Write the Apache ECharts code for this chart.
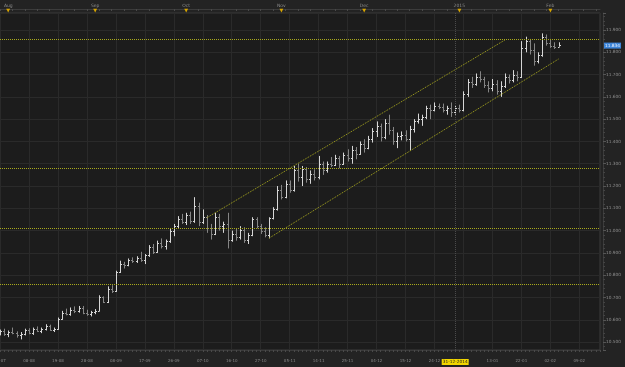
<!DOCTYPE html>
<html>
<head>
<meta charset="utf-8">
<script src="https://cdn.jsdelivr.net/npm/echarts/dist/echarts.min.js"></script>
<style>
  html, body { margin: 0; padding: 0; background: #232323; }
  #chart { width: 625px; height: 367px; }
</style>
</head>
<body>
<div id="chart"></div>
<script>
// daily bars, 30-07-2014 .. 04-02-2015 (slot index = trading day)
const open = [
  10.540, 10.548, 10.535, 10.545, 10.540, 10.530, 10.538, 10.552, 10.540, 10.558,
  10.550, 10.560, 10.572, 10.556, 10.560, 10.605, 10.630, 10.625, 10.645, 10.640,
  10.655, 10.630, 10.625, 10.635, 10.640, 10.700, 10.680, 10.740, 10.730, 10.815,
  10.850, 10.845, 10.868, 10.862, 10.878, 10.870, 10.890, 10.925, 10.905, 10.945,
  10.930, 10.952, 11.000, 11.020, 11.050, 11.040, 11.070, 11.045, 11.110, 11.040,
  11.060, 11.010, 10.985, 11.060, 11.020, 11.030, 10.960, 10.985, 10.970, 11.005,
  10.960, 10.980, 11.050, 11.020, 11.000, 10.980, 11.055, 11.095, 11.180, 11.150,
  11.210, 11.180, 11.270, 11.240, 11.275, 11.230, 11.255, 11.240, 11.300, 11.270,
  11.300, 11.295, 11.325, 11.300, 11.340, 11.325, 11.360, 11.345, 11.390, 11.370,
  11.410, 11.445, 11.470, 11.420, 11.485, 11.450, 11.400, 11.425, 11.430, 11.410,
  11.455, 11.490, 11.500, 11.510, 11.550, 11.540, 11.560, 11.555, 11.540, 11.550,
  11.530, 11.550, 11.540, 11.615, 11.665, 11.660, 11.690, 11.680, 11.655, 11.640,
  11.660, 11.625, 11.650, 11.690, 11.675, 11.700, 11.690, 11.820, 11.850, 11.810,
  11.760, 11.790, 11.870, 11.840, 11.830, 11.825
]
const high = [
  10.556, 10.560, 10.552, 10.565, 10.548, 10.545, 10.560, 10.562, 10.565, 10.570,
  10.565, 10.580, 10.578, 10.565, 10.610, 10.640, 10.650, 10.655, 10.660, 10.662,
  10.662, 10.645, 10.640, 10.648, 10.710, 10.705, 10.750, 10.755, 10.820, 10.865,
  10.860, 10.875, 10.880, 10.885, 10.905, 10.895, 10.935, 10.940, 10.955, 10.965,
  10.960, 11.010, 11.030, 11.065, 11.075, 11.080, 11.085, 11.150, 11.125, 11.095,
  11.070, 11.030, 11.080, 11.075, 11.040, 11.080, 11.000, 11.010, 11.020, 11.015,
  10.990, 11.060, 11.060, 11.030, 11.015, 11.060, 11.105, 11.200, 11.205, 11.225,
  11.225, 11.290, 11.300, 11.290, 11.285, 11.270, 11.275, 11.335, 11.310, 11.310,
  11.330, 11.340, 11.335, 11.350, 11.365, 11.380, 11.375, 11.400, 11.410, 11.425,
  11.460, 11.490, 11.480, 11.500, 11.520, 11.465, 11.440, 11.445, 11.450, 11.470,
  11.500, 11.525, 11.520, 11.560, 11.565, 11.575, 11.570, 11.570, 11.560, 11.575,
  11.560, 11.565, 11.625, 11.680, 11.690, 11.705, 11.715, 11.690, 11.670, 11.680,
  11.675, 11.670, 11.705, 11.700, 11.720, 11.715, 11.850, 11.870, 11.860, 11.840,
  11.800, 11.885, 11.880, 11.860, 11.845, 11.845
]
const low = [
  10.530, 10.528, 10.522, 10.535, 10.520, 10.512, 10.530, 10.535, 10.532, 10.545,
  10.540, 10.552, 10.550, 10.545, 10.555, 10.600, 10.620, 10.618, 10.630, 10.632,
  10.625, 10.618, 10.615, 10.625, 10.638, 10.675, 10.675, 10.720, 10.725, 10.810,
  10.830, 10.840, 10.855, 10.855, 10.860, 10.850, 10.882, 10.895, 10.900, 10.920,
  10.915, 10.945, 10.975, 11.010, 11.030, 11.025, 11.030, 11.035, 11.020, 11.030,
  10.990, 10.960, 10.980, 11.000, 10.990, 10.920, 10.950, 10.955, 10.960, 10.945,
  10.940, 10.975, 11.010, 10.985, 10.970, 10.965, 11.050, 11.090, 11.140, 11.145,
  11.170, 11.175, 11.220, 11.200, 11.215, 11.210, 11.225, 11.230, 11.250, 11.260,
  11.285, 11.290, 11.280, 11.295, 11.310, 11.300, 11.320, 11.340, 11.350, 11.365,
  11.395, 11.420, 11.400, 11.410, 11.430, 11.385, 11.370, 11.405, 11.400, 11.360,
  11.440, 11.480, 11.470, 11.500, 11.500, 11.535, 11.545, 11.530, 11.520, 11.510,
  11.520, 11.530, 11.535, 11.600, 11.640, 11.650, 11.665, 11.640, 11.620, 11.625,
  11.610, 11.600, 11.640, 11.660, 11.665, 11.670, 11.685, 11.800, 11.790, 11.740,
  11.750, 11.780, 11.830, 11.820, 11.815, 11.825
]
const close = [
  10.548, 10.535, 10.545, 10.540, 10.530, 10.538, 10.552, 10.540, 10.558, 10.550,
  10.560, 10.572, 10.556, 10.560, 10.605, 10.630, 10.625, 10.645, 10.640, 10.655,
  10.630, 10.625, 10.635, 10.640, 10.700, 10.680, 10.740, 10.730, 10.815, 10.850,
  10.845, 10.868, 10.862, 10.878, 10.870, 10.890, 10.925, 10.905, 10.945, 10.930,
  10.952, 11.000, 11.020, 11.050, 11.040, 11.070, 11.045, 11.110, 11.040, 11.060,
  11.010, 10.985, 11.060, 11.020, 11.030, 10.960, 10.985, 10.970, 11.005, 10.960,
  10.980, 11.050, 11.020, 11.000, 10.980, 11.055, 11.095, 11.180, 11.150, 11.210,
  11.180, 11.270, 11.240, 11.275, 11.230, 11.255, 11.240, 11.300, 11.270, 11.300,
  11.295, 11.325, 11.300, 11.340, 11.325, 11.360, 11.345, 11.390, 11.370, 11.410,
  11.445, 11.470, 11.420, 11.485, 11.450, 11.400, 11.425, 11.430, 11.410, 11.455,
  11.490, 11.500, 11.510, 11.550, 11.540, 11.560, 11.555, 11.540, 11.550, 11.530,
  11.550, 11.540, 11.615, 11.665, 11.660, 11.690, 11.680, 11.655, 11.640, 11.660,
  11.625, 11.650, 11.690, 11.675, 11.700, 11.690, 11.820, 11.850, 11.810, 11.760,
  11.790, 11.870, 11.840, 11.830, 11.825, 11.834
]

// bottom labels, one every 7 slots
const dayLabels = ['30-07', '08-08', '19-08', '28-08', '08-09', '17-09', '26-09', '07-10',
  '16-10', '27-10', '05-11', '14-11', '25-11', '04-12', '15-12', '24-12', '02-01',
  '13-01', '22-01', '02-02', '09-02']
// top month markers
const monthSlots = [2, 23, 45, 68, 88, 111, 133]
const monthNames = ['Aug', 'Sep', 'Oct', 'Nov', 'Dec', '2015', 'Feb']

const levels = [11.863, 11.276, 11.014, 10.758]
const channelTop = [[50, 11.058], [122, 11.855]]
const channelBottom = [[65, 10.966], [135, 11.770]]
const lastPrice = 11.834
const cursorSlot = 110
const cursorLabel = '31-12-2014'

const slotCount = 146
const slots = Array.from({ length: slotCount }, (_, i) => i)
const bars = open.map((o, i) => [i, o, high[i], low[i], close[i]])

const chart = echarts.init(document.getElementById('chart'))
const font = 'DejaVu Sans'
const yellow = '#a9a91c'

// OHLC bar: high-low stick, open tick left, close tick right
function renderOhlc(params, api) {
  const i = api.value(0)
  const o = api.coord([i, api.value(1)])
  const h = api.coord([i, api.value(2)])
  const l = api.coord([i, api.value(3)])
  const c = api.coord([i, api.value(4)])
  const x = Math.round(h[0]) + 0.5
  const up = api.value(4) >= api.value(1)
  const style = { stroke: up ? '#d6d6d6' : '#858585', lineWidth: 1 }
  return {
    type: 'group',
    children: [
      { type: 'line', shape: { x1: x, y1: h[1], x2: x, y2: l[1] }, style },
      { type: 'line', shape: { x1: x - 1.5, y1: Math.round(o[1]) + 0.5, x2: x, y2: Math.round(o[1]) + 0.5 }, style },
      { type: 'line', shape: { x1: x, y1: Math.round(c[1]) + 0.5, x2: x + 1.5, y2: Math.round(c[1]) + 0.5 }, style }
    ]
  }
}

const option = {
  backgroundColor: '#232323',
  animation: false,
  textStyle: { fontFamily: font },
  grid: {
    left: 0, right: 25, top: 13, bottom: 17,
    outerBoundsMode: 'none',
    containLabel: false,
    show: true, backgroundColor: '#1c1c1c', borderColor: '#3a3a3a', borderWidth: 1
  },
  xAxis: [
    {
      type: 'category',
      data: slots,
      boundaryGap: false,
      axisLine: { lineStyle: { color: '#3a3a3a' } },
      axisTick: { interval: 0, length: 2, lineStyle: { color: '#4a4a4a' } },
      axisLabel: {
        interval: 6,
        color: '#8a8a8a',
        fontSize: 4,
        margin: 9,
        formatter: v => dayLabels[Number(v) / 7] || ''
      },
      splitLine: { show: true, interval: 6, lineStyle: { color: '#2a2a2a' } }
    },
    {
      type: 'category',
      position: 'top',
      data: slots,
      boundaryGap: false,
      offset: 4,
      axisLine: { lineStyle: { color: '#3c3c3c' } },
      axisTick: { interval: 2, length: 2, inside: true, lineStyle: { color: '#4a4a4a' } },
      axisLabel: {
        interval: idx => monthSlots.includes(idx),
        margin: -4,
        formatter: v => '{m|' + monthNames[monthSlots.indexOf(Number(v))] + '}\n{t|▼}',
        rich: {
          m: { color: '#8a8a8a', fontSize: 4.5, lineHeight: 5, fontFamily: font },
          t: { color: '#d7a500', fontSize: 5, lineHeight: 5, fontFamily: font }
        }
      },
      splitLine: { show: false }
    }
  ],
  yAxis: {
    type: 'value',
    position: 'right',
    offset: 3,
    min: 10.4644,
    max: 11.9763,
    splitNumber: 15,
    minInterval: 0.1,
    maxInterval: 0.1,
    axisLine: { show: true, lineStyle: { color: '#3c3c3c' } },
    axisTick: { show: true, length: 3, lineStyle: { color: '#555' } },
    minorTick: { show: true, splitNumber: 5, length: 2, lineStyle: { color: '#444' } },
    axisLabel: {
      color: '#8e8e8e',
      fontSize: 4.3,
      margin: 3,
      showMinLabel: false,
      showMaxLabel: false,
      formatter: v => v.toFixed(3)
    },
    splitLine: { lineStyle: { color: '#2a2a2a' } }
  },
  series: [
    {
      type: 'custom',
      renderItem: renderOhlc,
      data: bars,
      encode: { x: 0, y: [1, 2, 3, 4] },
      clip: true,
      z: 3
    },
    {
      type: 'line',
      data: [],
      z: 2,
      markLine: {
        silent: true,
        symbol: 'none',
        lineStyle: { color: yellow, type: 'dotted', width: 1 },
        label: { show: false },
        data: [
          ...levels.map(v => ({ yAxis: v })),
          [{ coord: channelTop[0] }, { coord: channelTop[1] }],
          [{ coord: channelBottom[0] }, { coord: channelBottom[1] }],
          {
            xAxis: cursorSlot,
            lineStyle: { color: '#4a4a4a', type: 'dotted', width: 1 },
            label: {
              show: true, position: 'start', distance: 9,
              formatter: cursorLabel, backgroundColor: '#f2d600', color: '#222',
              fontSize: 4.3, fontFamily: font, padding: [1, 1]
            }
          }
        ]
      }
    },
    {
      type: 'line',
      data: [],
      z: 4,
      markLine: {
        silent: true,
        symbol: 'none',
        lineStyle: { color: 'rgba(0,0,0,0)', width: 0 },
        data: [{
          yAxis: lastPrice,
          label: {
            show: true, position: 'end', distance: 4,
            formatter: lastPrice.toFixed(3), backgroundColor: '#3d85d8', color: '#eef4ff',
            fontSize: 4.3, fontFamily: font, padding: [1, 1]
          }
        }]
      }
    }
  ]
}

chart.setOption(option)
window.addEventListener('resize', () => chart.resize())
</script>
</body>
</html>
